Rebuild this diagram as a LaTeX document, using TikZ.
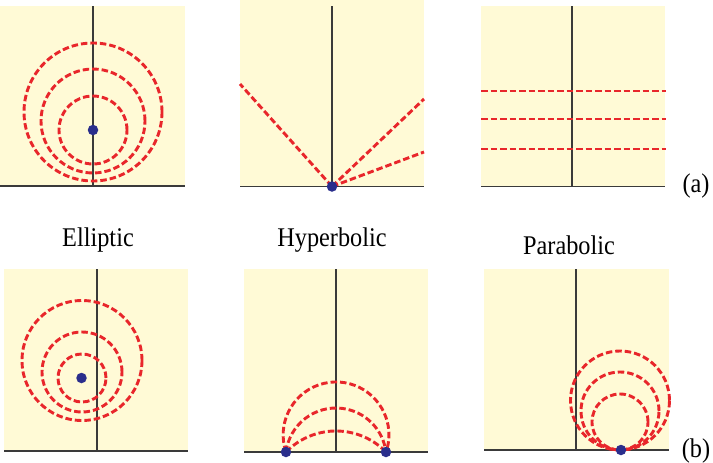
\documentclass[tikz,border=0pt]{standalone}
\usepackage{fontspec}
\setmainfont{Liberation Serif}
\newfontfamily\lblfont[FakeStretch=0.9]{Liberation Serif}
\definecolor{paneyellow}{HTML}{FFFAD6}
\definecolor{curvered}{HTML}{E8262B}
\definecolor{dotblue}{HTML}{2A2E8C}
\definecolor{axisgray}{HTML}{3A3A3A}
\begin{document}
\begin{tikzpicture}[x=1pt,y=-1pt,
  panel/.style={fill=paneyellow,draw=none},
  axisline/.style={draw=axisgray,line width=1.2pt},
  curve/.style={draw=curvered,line width=2.9pt,dash pattern=on 6.5pt off 3pt},
  ptdot/.style={circle,fill=dotblue,inner sep=0pt,minimum size=10.5pt},
  lbl/.style={font=\lblfont\fontsize{27}{30}\selectfont,anchor=base,inner sep=0pt}]
\useasboundingbox (0,0) rectangle (713,463);
% ---------- Panel 1: elliptic (a)
\fill[panel] (0,6) rectangle (185,186);
\draw[axisline] (0,186) -- (185,186);
\draw[axisline] (93,6) -- (93,186);
\draw[curve] (93,130) circle[radius=34pt];
\draw[curve] (93,121) circle[radius=52pt];
\draw[curve] (93,112) circle[radius=69pt];
\node[ptdot] (e1) at (93,130) {};
% ---------- Panel 2: hyperbolic (a)
\fill[panel] (240,0) rectangle (424,186.5);
\draw[axisline] (240,186.5) -- (424,186.5);
\draw[axisline] (332,6) -- (332,186.5);
\coordinate (h1) at (240,84);
\coordinate (h2) at (424,99);
\coordinate (h3) at (424,152);
\coordinate (h0) at (332,186.5);
\draw[curve] (h0) -- (h1);
\draw[curve] (h0) -- (h2);
\draw[curve] (h0) -- (h3);
\node[ptdot] (hd) at (h0) {};
% ---------- Panel 3: parabolic (a)
\fill[panel] (481,6) rectangle (665,186.5);
\draw[axisline] (481,186.5) -- (665,186.5);
\draw[axisline] (572,6) -- (572,186.5);
\draw[curve] (481,91) -- (666,91);
\draw[curve] (481,119) -- (666,119);
\draw[curve] (481,149) -- (666,149);
% ---------- labels
\node[lbl] (le) at (98,246.5) {Elliptic};
\node[lbl] (lh) at (332,246.5) {Hyperbolic};
\node[lbl] (lp) at (569,254) {Parabolic};
\node[lbl] (la) at (696,192.7) {(a)};
\node[lbl] (lb) at (696,457.4) {(b)};
% ---------- Panel 4: elliptic (b)
\fill[panel] (4,269) rectangle (188,451);
\draw[axisline] (4,451) -- (188,451);
\draw[axisline] (97,269) -- (97,451);
\draw[curve] (82,378) circle[radius=24pt];
\draw[curve] (82,372) circle[radius=40pt];
\draw[curve] (82,360.5) circle[radius=60pt];
\node[ptdot] (e2) at (81.5,378) {};
% ---------- Panel 5: hyperbolic (b)
\fill[panel] (244,269) rectangle (428,452);
\draw[axisline] (244,452) -- (428,452);
\draw[axisline] (336,269) -- (336,452);
\coordinate (pa) at (286,452);
\coordinate (pb) at (386,452);
\draw[curve] (pa) arc[start angle=198.9,end angle=-18.9,radius=52.9pt];
\draw[curve] (pa) arc[start angle=172.7,end angle=7.3,radius=50.4pt];
\draw[curve] (pa) arc[start angle=135.6,end angle=44.4,radius=70pt];
\node[ptdot] (da) at (pa) {};
\node[ptdot] (db) at (pb) {};
% ---------- Panel 6: parabolic (b)
\fill[panel] (484,269) rectangle (669,450);
\draw[axisline] (484,450) -- (669,450);
\draw[axisline] (576,269) -- (576,450);
\draw[curve] (620,400.5) circle[radius=49.5pt];
\draw[curve] (620,411) circle[radius=39pt];
\draw[curve] (620,422) circle[radius=28pt];
\node[ptdot] (pd) at (621,450) {};
\end{tikzpicture}
\end{document}
